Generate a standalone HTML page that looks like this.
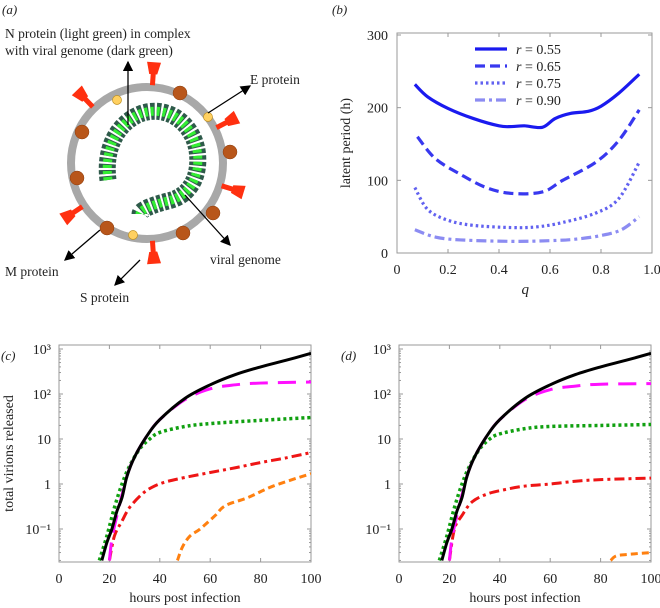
<!DOCTYPE html>
<html><head><meta charset="utf-8"><style>
body{margin:0;background:#fff}
svg{display:block}
text{font-family:"Liberation Serif",serif;fill:#222}
</style></head><body>
<svg id="s" width="660" height="608" viewBox="0 0 660 608">
<g id="pa">
<text x="2" y="14" font-size="13" font-style="italic">(a)</text>
<text x="5" y="38" font-size="13.5">N protein (light green) in complex</text>
<text x="5" y="55" font-size="13.5">with viral genome (dark green)</text>
<text x="250" y="84" font-size="13.5">E protein</text>
<text x="5" y="276" font-size="13.5">M protein</text>
<text x="80" y="302" font-size="13.5">S protein</text>
<text x="210" y="264" font-size="13.5">viral genome</text>
</g>
<g id="pb"></g><g id="pc"></g><g id="pd"></g>
</svg>
<script>
// ---- Panel b data ----
const bQ055=[0.07,0.12,0.2,0.3,0.4,0.45,0.5,0.57,0.62,0.68,0.75,0.8,0.87,0.95];
const bV055=[232,215,199,185,175,174,175,173,185,192,195,202,220,246];
const bQ065=[0.08,0.15,0.25,0.35,0.45,0.57,0.65,0.78,0.87,0.95];
const bV065=[160,130,108,90,82,84,100,125,155,197];
const bQ075=[0.07,0.12,0.2,0.3,0.45,0.55,0.65,0.78,0.87,0.95];
const bV075=[90,60,45,38,35,36,42,55,75,125];
const bQ090=[0.07,0.15,0.25,0.45,0.6,0.7,0.8,0.88,0.95];
const bV090=[32,22,18,16,17,19,24,32,50];
const bLegend=["r = 0.55","r = 0.65","r = 0.75","r = 0.90"];
const bXTicks=[0,0.2,0.4,0.6,0.8,1.0];
const bXLabels=["0","0.2","0.4","0.6","0.8","1.0"];
const bYTicks=[0,100,200,300];
// ---- Panel c data ----
const cBlackX=[17,19,21,23,25,27,30,35,40,50,60,70,80,90,100];
const cBlackY=[0.02,0.05,0.1,0.25,0.5,1.5,4,12,27,80,160,270,400,560,800];
const cMagX=[20,21,23,27,30,35,40,50,60,70,80,100];
const cMagY=[0.02,0.06,0.2,1.5,4,12,27,75,130,160,175,185];
const cGreenX=[16,19,22,25,28,32,36,40,50,60,80,100];
const cGreenY=[0.02,0.07,0.3,1,2.5,6,10,14,19,22,26,30];
const cRedX=[20,22,25,28,33,37,42,50,60,70,80,90,100];
const cRedY=[0.02,0.07,0.15,0.3,0.6,0.85,1.1,1.4,1.8,2.3,3,3.8,5];
const cOrX=[47,49,52,56,62,66,75,85,100];
const cOrY=[0.02,0.04,0.07,0.1,0.2,0.33,0.5,0.9,1.7];
// ---- Panel d data ----
const dBlackX=[17,19,21,23,25,27,30,35,40,50,60,70,80,90,100];
const dBlackY=[0.02,0.05,0.1,0.25,0.5,1.5,4,12,27,80,160,270,400,560,800];
const dMagX=[20,21,23,27,30,35,40,50,60,70,80,100];
const dMagY=[0.02,0.06,0.2,1.5,4,12,27,75,125,150,165,170];
const dGreenX=[16,19,22,25,28,32,36,40,50,60,80,100];
const dGreenY=[0.02,0.07,0.3,1,2.5,6,10,13,17,19,20,21];
const dRedX=[20,22,25,29,35,42,50,60,70,80,100];
const dRedY=[0.02,0.1,0.2,0.4,0.6,0.75,0.9,1.0,1.15,1.25,1.35];
const dOrX=[84,86,90,100];
const dOrY=[0.02,0.025,0.027,0.03];
const logXTicks=[0,20,40,60,80,100];
const logYTicks=[0.1,1,10,100,1000];
const logYLabels=["10\u207b\u00b9","1","10","10\u00b2","10\u00b3"];

const NS="http://www.w3.org/2000/svg";
function mk(p,tag,a){const e=document.createElementNS(NS,tag);for(const k in a)e.setAttribute(k,a[k]);p.appendChild(e);return e;}
function smooth(pts){let d="M"+pts[0][0]+","+pts[0][1];for(let i=0;i<pts.length-1;i++){const p0=pts[Math.max(0,i-1)],p1=pts[i],p2=pts[i+1],p3=pts[Math.min(pts.length-1,i+2)];const c1=[p1[0]+(p2[0]-p0[0])/6,p1[1]+(p2[1]-p0[1])/6],c2=[p2[0]-(p3[0]-p1[0])/6,p2[1]-(p3[1]-p1[1])/6];d+=" C"+c1+" "+c2+" "+p2;}return d;}

// ---- panel b ----
(function(){
const g=document.getElementById('pb');
const L=397,R=652,T=33,B=253;
const xs=q=>L+q*(R-L), ys=v=>B-v*(B-35)/300;
let t=mk(g,'text',{x:332,y:14,'font-size':13,'font-style':'italic'});t.textContent='(b)';


let f=mk(g,'rect',{x:L,y:T,width:R-L,height:B-T,fill:'none',stroke:'#999','stroke-width':1});


bXTicks.forEach((v,i)=>{const x=xs(v);mk(g,'line',{x1:x,x2:x,y1:B,y2:B-4,stroke:'#999'});mk(g,'line',{x1:x,x2:x,y1:T,y2:T+4,stroke:'#999'});
const l=mk(g,'text',{x:x,y:B+21,'font-size':14,'text-anchor':'middle'});l.textContent=bXLabels[i];

});
bYTicks.forEach(v=>{const y=ys(v);mk(g,'line',{x1:L,x2:L+4,y1:y,y2:y,stroke:'#999'});mk(g,'line',{x1:R,x2:R-4,y1:y,y2:y,stroke:'#999'});
const l=mk(g,'text',{x:L-9,y:y+5,'font-size':14,'text-anchor':'end'});l.textContent=v;

});
let xt=mk(g,'text',{x:(L+R)/2-3,y:294,'font-size':15,'font-style':'italic'});xt.textContent='q';


let yt=mk(g,'text',{x:0,y:0,'font-size':14,'text-anchor':'middle',transform:'translate(350,'+((T+B)/2)+') rotate(-90)'});yt.textContent='latent period (h)';


const ser=[[bQ055,bV055,'#1a1aef','',3.2],[bQ065,bV065,'#3838ef','10,5',3.2],[bQ075,bV075,'#6262f0','2.5,3',3.2],[bQ090,bV090,'#8c8cf2','10,4,3,4',3.2]];
ser.forEach((s,i)=>{const p=mk(g,'path',{d:smooth(s[0].map((q,j)=>[xs(q),ys(s[1][j])])),fill:'none',stroke:s[2],'stroke-width':s[4],'stroke-dasharray':s[3]});


const ly=49+i*17;mk(g,'line',{x1:475,x2:507,y1:ly,y2:ly,stroke:s[2],'stroke-width':s[4],'stroke-dasharray':s[3]});
const lt=mk(g,'text',{x:516,y:ly+5,'font-size':14});lt.innerHTML='<tspan font-style="italic">r</tspan>'+bLegend[i].slice(1);

});
})();

// ---- panels c & d ----
function logPanel(id,L,R,lab,series,showY){
const g=document.getElementById(id);
const T=345,B=562;
const xs=v=>L+v*(R-L)/100;
const yv=v=>349+45*(3-Math.log10(v));
let t=mk(g,'text',{x:L-58,y:360,'font-size':13,'font-style':'italic'});t.textContent=lab;


let f=mk(g,'rect',{x:L,y:T,width:R-L,height:B-T,fill:'none',stroke:'#999'});


logXTicks.forEach(v=>{const x=xs(v);mk(g,'line',{x1:x,x2:x,y1:B,y2:B-4,stroke:'#999'});mk(g,'line',{x1:x,x2:x,y1:T,y2:T+4,stroke:'#999'});
const l=mk(g,'text',{x:x,y:B+21,'font-size':14,'text-anchor':'middle'});l.textContent=v;

});
for(let e=-2;e<3;e++)for(let m=1;m<10;m++){const v=m*Math.pow(10,e);const y=yv(v);if(y>B||y<T)continue;const len=m==1?4:2;
mk(g,'line',{x1:L,x2:L+len,y1:y,y2:y,stroke:'#999'});mk(g,'line',{x1:R,x2:R-len,y1:y,y2:y,stroke:'#999'});}
logYTicks.forEach((v,i)=>{const y=yv(v);mk(g,'line',{x1:L,x2:L+4,y1:y,y2:y,stroke:'#999'});
const l=mk(g,'text',{x:L-8,y:y+5,'font-size':14,'text-anchor':'end'});l.textContent=logYLabels[i];

});
let xt=mk(g,'text',{x:(L+R)/2,y:602,'font-size':14,'text-anchor':'middle'});xt.textContent='hours post infection';


if(showY){let yt=mk(g,'text',{x:0,y:0,'font-size':14,'text-anchor':'middle',transform:'translate(13,'+((T+B)/2)+') rotate(-90)'});yt.textContent='total virions released';

}
const cp=mk(g,'clipPath',{id:id+'clip'});mk(cp,'rect',{x:L,y:T,width:R-L,height:B-T+2});
series.forEach(s=>{const p=mk(g,'path',{d:smooth(s[0].map((x,j)=>[xs(x),yv(s[1][j])])),fill:'none',stroke:s[2],'stroke-width':s[4],'stroke-dasharray':s[3],'clip-path':'url(#'+id+'clip)'});

});
}
logPanel('pc',59,311,'(c)',[[cOrX,cOrY,'#ff8010','7,4',3,'orange-series'],[cRedX,cRedY,'#ee1515','10,4,3,4',3,'red-series'],[cGreenX,cGreenY,'#10a010','3,3',3.5,'green-series'],[cMagX,cMagY,'#ff10ff','18,10',3,'magenta-series'],[cBlackX,cBlackY,'#000','',3,'black-series']],true);
logPanel('pd',399,651,'(d)',[[dOrX,dOrY,'#ff8010','7,4',3,'orange-series'],[dRedX,dRedY,'#ee1515','10,4,3,4',3,'red-series'],[dGreenX,dGreenY,'#10a010','3,3',3.5,'green-series'],[dMagX,dMagY,'#ff10ff','18,10',3,'magenta-series'],[dBlackX,dBlackY,'#000','',3,'black-series']],false);

// ---- panel a diagram ----
(function(){
const g=document.getElementById('pa');
const cx=147,cy=163,r=76;
const c=mk(g,'circle',{cx:cx,cy:cy,r:r,fill:'none',stroke:'#a8a8a8','stroke-width':8});


const gd='M108,180 C104,150 116,124 140,114 C166,104 192,122 197,150 C201,176 190,196 168,201 C152,205 140,210 140,214';
const gen=mk(g,'path',{d:gd,fill:'none',stroke:'#2e5a4a','stroke-width':17,'stroke-dasharray':'4,2'});


mk(g,'path',{d:gd,fill:'none',stroke:'#33ee33','stroke-width':9,'stroke-dasharray':'3,3'});
[4,-44,63,107,236,176].forEach(a=>{const s=mk(g,'g',{transform:'translate('+cx+','+cy+') rotate('+a+')'});


mk(s,'rect',{x:-2.5,y:-r-14,width:5,height:12,fill:'#ff3010'});
mk(s,'polygon',{points:'-4,-'+(r+13)+' 4,-'+(r+13)+' 7,-'+(r+25)+' -7,-'+(r+25),fill:'#ff3010'});});
[[180,93],[82,132],[230,152],[77,178],[213,213],[107,228],[183,233]].forEach(p=>{const e=mk(g,'ellipse',{cx:p[0],cy:p[1],rx:7,ry:7,fill:'#b8561a',stroke:'#8a3e10','stroke-width':0.5});

});
[[117,100],[208,117],[133,235]].forEach(p=>{const e=mk(g,'circle',{cx:p[0],cy:p[1],r:4.5,fill:'#ffd060',stroke:'#c09020','stroke-width':0.7});

});
const defs=mk(g,'defs',{});const mkr=mk(defs,'marker',{id:'ah',markerWidth:8,markerHeight:8,refX:7,refY:4,orient:'auto'});mk(mkr,'path',{d:'M0,0 L8,4 L0,8 Z',fill:'#000'});
[[128,125,128,62],[208,113,250,86],[100,230,65,260],[140,260,115,285],[185,195,230,245]].forEach(a=>{const l=mk(g,'line',{x1:a[0],y1:a[1],x2:a[2],y2:a[3],stroke:'#000','stroke-width':1.3,'marker-end':'url(#ah)'});

});
})();
</script>
</body></html>
